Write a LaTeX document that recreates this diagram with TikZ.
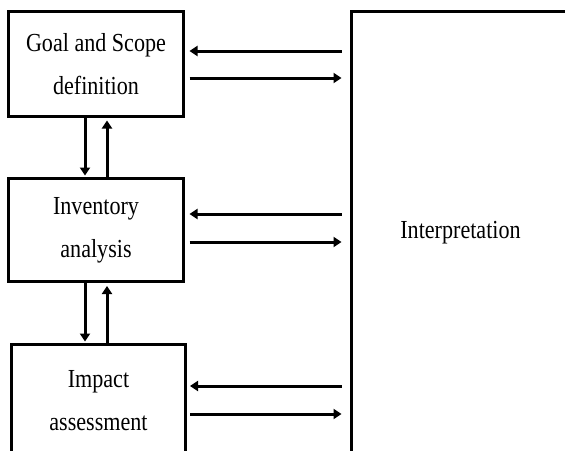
\documentclass[tikz,border=0pt]{standalone}
\usepackage{fontspec}
\setmainfont{Liberation Serif}[FakeStretch=0.85]
\usetikzlibrary{arrows.meta}
\begin{document}
\begin{tikzpicture}[x=1pt,y=-1pt,
  box/.style={draw,line width=3pt,inner sep=0pt,align=center,
    font=\fontsize{26}{43}\selectfont},
  arr/.style={line width=3pt,-{Triangle[length=8pt,width=10pt]}}]
\useasboundingbox (0,0) rectangle (565,450);
\clip (0,0) rectangle (565,450);
\node[box,minimum width=175pt,minimum height=104.5pt] (b1) at (96,63.75) {Goal and Scope\\definition};
\node[box,minimum width=175pt,minimum height=103pt] (b2) at (96,230) {Inventory\\analysis};
\node[box,minimum width=174pt,minimum height=112pt] (b3) at (98.5,400.5) {Impact\\assessment};
\node[box,minimum width=218pt,minimum height=443pt] (ip) at (460.5,233) {Interpretation};
% coordinates for connector levels
\coordinate (ya1) at (0,51);
\coordinate (yb1) at (0,78);
\coordinate (ya2) at (0,214);
\coordinate (yb2) at (0,242);
\coordinate (ya3) at (0,386);
\coordinate (yb3) at (0,414);
\coordinate (xd) at (85,0);
\coordinate (xu) at (107,0);
% horizontal arrows
\draw[arr,shorten <=8.5pt,shorten >=4.5pt] (ip.west |- ya1) -- (b1.east |- ya1);
\draw[arr,shorten <=4.5pt,shorten >=8.5pt] (b1.east |- yb1) -- (ip.west |- yb1);
\draw[arr,shorten <=8.5pt,shorten >=4.5pt] (ip.west |- ya2) -- (b2.east |- ya2);
\draw[arr,shorten <=4.5pt,shorten >=8.5pt] (b2.east |- yb2) -- (ip.west |- yb2);
\draw[arr,shorten <=8.5pt,shorten >=3pt] (ip.west |- ya3) -- (b3.east |- ya3);
\draw[arr,shorten <=3pt,shorten >=8.5pt] (b3.east |- yb3) -- (ip.west |- yb3);
% vertical arrows
\draw[arr,shorten >=1.5pt] (b1.south -| xd) -- (b2.north -| xd);
\draw[arr,shorten >=3pt] (b2.north -| xu) -- (b1.south -| xu);
\draw[arr,shorten >=1.5pt] (b2.south -| xd) -- (b3.north -| xd);
\draw[arr,shorten >=3pt] (b3.north -| xu) -- (b2.south -| xu);
\end{tikzpicture}
\end{document}
